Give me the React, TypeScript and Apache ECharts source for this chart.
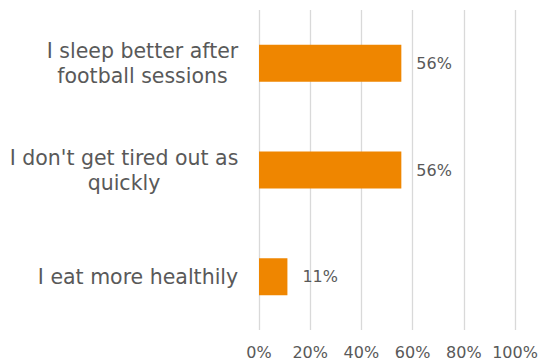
import React, { useEffect, useRef } from "react";
import * as echarts from "echarts";

const categories = [
  "I sleep better after\nfootball sessions",
  "I don't get tired out as\nquickly",
  "I eat more healthily",
];
const values = [55.6, 55.6, 11.1];
const tickLabels = ["0%", "20%", "40%", "60%", "80%", "100%"];

export default function App() {
  const ref = useRef<HTMLDivElement>(null);
  useEffect(() => {
    if (!ref.current) return;
    const chart = echarts.init(ref.current, null, { renderer: "svg" });
    const font = "DejaVu Sans";
    const catSize = 20.5;
    const canvas = document.createElement("canvas");
    const ctx = canvas.getContext("2d")!;
    ctx.font = `${catSize}px "${font}"`;
    const rich: Record<string, any> = {};
    categories.forEach((c, i) => {
      const w = Math.max(...c.split("\n").map((l) => ctx.measureText(l).width));
      rich["c" + i] = {
        width: Math.ceil(w) + 1,
        align: "center",
        color: "#595959",
        fontFamily: font,
        fontSize: catSize,
        lineHeight: 25,
      };
    });
    chart.setOption({
      animation: false,
      backgroundColor: "#ffffff",
      grid: { left: 259, right: 28, top: 10, bottom: 30, containLabel: false },
      xAxis: {
        type: "value",
        min: 0,
        max: 100,
        interval: 20,
        axisLine: { show: false },
        axisTick: { show: false },
        splitLine: { show: true, lineStyle: { color: "#d9d9d9", width: 1.3 } },
        axisLabel: {
          color: "#595959",
          fontFamily: font,
          fontSize: 16,
          margin: 14,
          formatter: (v: number) => tickLabels[Math.round(v / 20)] ?? "",
        },
      },
      yAxis: {
        type: "category",
        inverse: true,
        data: categories,
        axisLine: { show: false },
        axisTick: { show: false },
        axisLabel: {
          color: "#595959",
          fontFamily: font,
          fontSize: catSize,
          lineHeight: 25,
          margin: 20,
          align: "right",
          formatter: (v: string, idx: number) =>
            v
              .split("\n")
              .map((l) => `{c${idx}|${l}}`)
              .join("\n"),
          rich,
        },
      },
      series: [
        {
          type: "bar",
          data: values,
          barWidth: 37,
          itemStyle: { color: "#EF8600" },
          label: {
            show: true,
            position: "right",
            distance: 15,
            color: "#595959",
            fontFamily: font,
            fontSize: 16,
            formatter: (p: any) => Math.round(p.value) + "%",
          },
        },
      ],
    });
    return () => chart.dispose();
  }, []);
  return (
    <div
      ref={ref}
      style={{ position: "fixed", left: 0, top: 0, width: 543, height: 360 }}
    />
  );
}
